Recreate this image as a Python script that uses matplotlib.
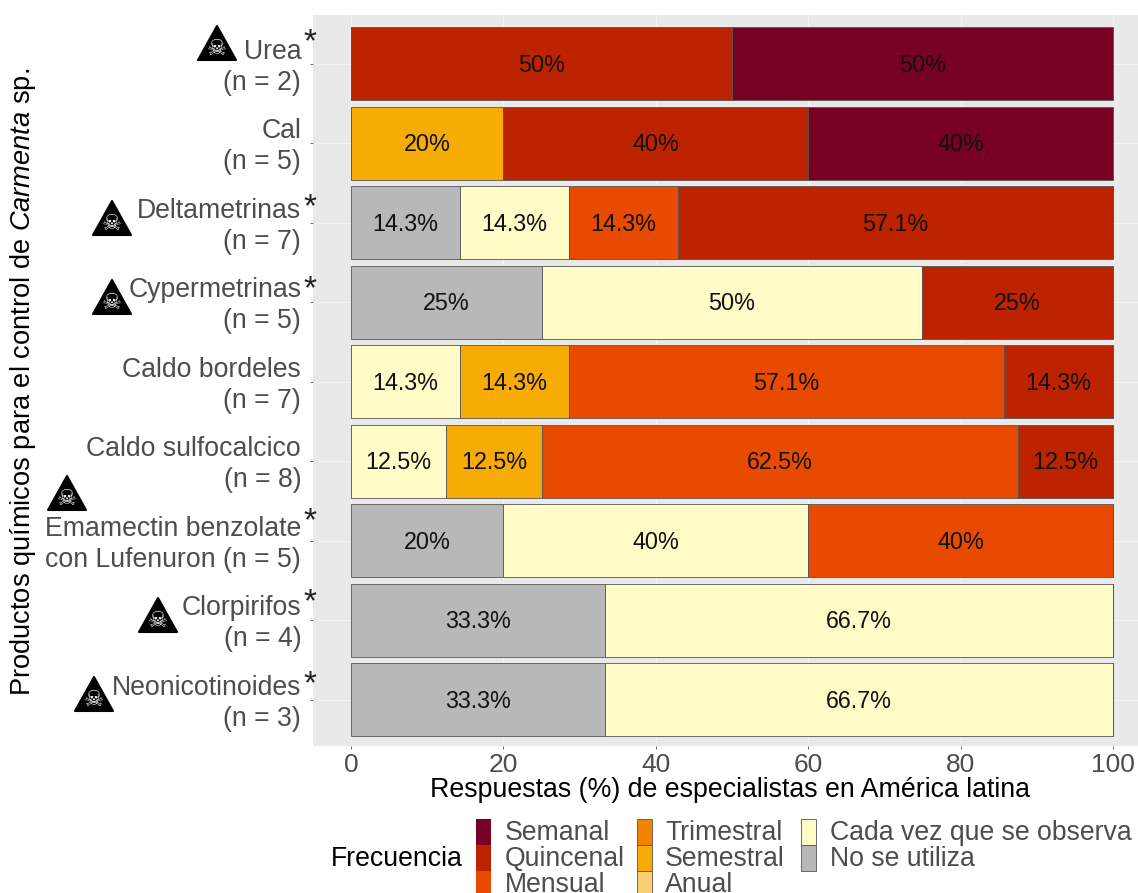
#!/usr/bin/python3
import matplotlib
matplotlib.use('Agg')
import matplotlib.pyplot as plt
from matplotlib.patches import Rectangle, Polygon
from matplotlib.transforms import ScaledTranslation

plt.rcParams['font.family'] = ['Liberation Sans', 'DejaVu Sans']
plt.rcParams['mathtext.fontset'] = 'custom'
plt.rcParams['mathtext.it'] = 'Liberation Sans:italic'
plt.rcParams['mathtext.rm'] = 'Liberation Sans'

W, H = 1138, 893

products = ['Urea\n(n = 2)', 'Cal\n(n = 5)', 'Deltametrinas\n(n = 7)', 'Cypermetrinas\n(n = 5)',
            'Caldo bordeles\n(n = 7)', 'Caldo sulfocalcico\n(n = 8)',
            'Emamectin benzolate\ncon Lufenuron (n = 5)', 'Clorpirifos\n(n = 4)', 'Neonicotinoides\n(n = 3)']

# stacked left to right
no_utiliza = [0, 0, 14.3, 25, 0, 0, 20, 33.3, 33.3]
cada_vez = [0, 0, 14.3, 50, 14.3, 12.5, 40, 66.7, 66.7]
semestral = [0, 20, 0, 0, 14.3, 12.5, 0, 0, 0]
mensual = [0, 0, 14.3, 0, 57.1, 62.5, 40, 0, 0]
quincenal = [50, 40, 57.1, 25, 14.3, 12.5, 0, 0, 0]
semanal = [50, 40, 0, 0, 0, 0, 0, 0, 0]

series = [no_utiliza, cada_vez, semestral, mensual, quincenal, semanal]
series_colors = ['#B8B8B8', '#FFFCC8', '#F7AB05', '#E84A00', '#BE2300', '#780024']

legend_labels = ['Semanal', 'Quincenal', 'Mensual', 'Trimestral', 'Semestral', 'Anual',
                 'Cada vez que se observa', 'No se utiliza']
legend_colors = ['#780024', '#BE2300', '#E84A00', '#F28200', '#F7AB05', '#F9CE72', '#FFFCC8', '#B8B8B8']

x_ticks = [0, 20, 40, 60, 80, 100]
# products that carry the toxic sign, with the left end of the label in pixels
toxic = {'Urea': (217, 60), 'Deltametrinas': (112, 235), 'Cypermetrinas': (112, 314),
         'Emamectin': (67, 510), 'Clorpirifos': (158, 632), 'Neonicotinoides': (94, 711)}
star_y = [38, 203, 285, 517, 598, 680]

fig = plt.figure(figsize=(W / 100, H / 100), dpi=100)

# panel runs off the right edge of the picture
ax = fig.add_axes([313 / W, 1 - 746 / H, (1151 - 313) / W, (746 - 15) / H])
ax.set_facecolor('#E9E9E9')
ax.set_xlim(-5, 105)
ax.set_ylim(8.58, -0.615)
ax.grid(True, color='#F3F3F3', linewidth=0.8)
ax.set_axisbelow(True)
for s in ax.spines.values():
    s.set_visible(False)

ypos = list(range(len(products)))
left = [0] * len(products)
for vals, col in zip(series, series_colors):
    ax.barh(ypos, vals, left=left, height=0.92, color=col, edgecolor='#555555', linewidth=0.6)
    for i, v in enumerate(vals):
        if v > 0:
            ax.annotate('%g%%' % v, (left[i] + v / 2, i), xytext=(0, 0.7), textcoords='offset points',
                        ha='center', va='center_baseline', fontsize=16.8, color='#111111')
    left = [a + b for a, b in zip(left, vals)]

ax.set_yticks(ypos)
ax.set_yticklabels(products, fontsize=19.2, color='#4D4D4D', linespacing=1.25)
ax.set_xticks(x_ticks)
ax.set_xticklabels([str(t) for t in x_ticks], fontsize=19, color='#4D4D4D')
ax.tick_params(axis='both', color='#4D4D4D', length=2, width=0.6)
ax.tick_params(axis='y', pad=6.5)
ax.tick_params(axis='x', pad=3)
# labels sit a little above their ticks
nudge = ScaledTranslation(0, 2 / 100, fig.dpi_scale_trans)
for lbl in ax.get_yticklabels():
    lbl.set_transform(lbl.get_transform() + nudge)

# overlay in pixels for the icons, stars and the legend
ov = fig.add_axes([0, 0, 1, 1], facecolor='none')
ov.set_xlim(0, W)
ov.set_ylim(H, 0)
ov.axis('off')

ov.text(430, 790, 'Respuestas (%) de especialistas en América latina', fontsize=19.3, color='black',
        ha='left', va='center')
ov.text(23, 382, r'Productos químicos para el control de $\it{Carmenta}$ sp.', fontsize=19.6,
        rotation=90, ha='center', va='center')

for name, (cx, base) in toxic.items():
    ov.add_patch(Polygon([(cx - 19, base), (cx + 19, base), (cx, base - 34)], closed=True,
                         facecolor='black', edgecolor='black', linewidth=1.5, joinstyle='round'))
    ov.text(cx, base - 11, '☠', family='DejaVu Sans', fontsize=16, color='white', ha='center', va='center')

for y in star_y:
    ov.text(310, y + 5, '*', fontsize=24, color='#222222', ha='center', va='center')

# legend, last row is cut by the picture edge
ov.text(331, 859, 'Frecuencia', fontsize=19.2, color='black', ha='left', va='center')
col_x = [(476, 505), (637, 665), (801, 830)]
col_rows = [3, 3, 2]
k = 0
for (sx, tx), n in zip(col_x, col_rows):
    for r in range(n):
        ov.add_patch(Rectangle((sx, 819 + 26 * r), 15, 26, facecolor=legend_colors[k],
                               edgecolor='#555555' if k > 2 else 'none', linewidth=0.6))
        ov.text(tx, 833 + 26 * r, legend_labels[k], fontsize=19.2, color='#4D4D4D', ha='left', va='center')
        k += 1

fig.savefig('out.png', dpi=100)
